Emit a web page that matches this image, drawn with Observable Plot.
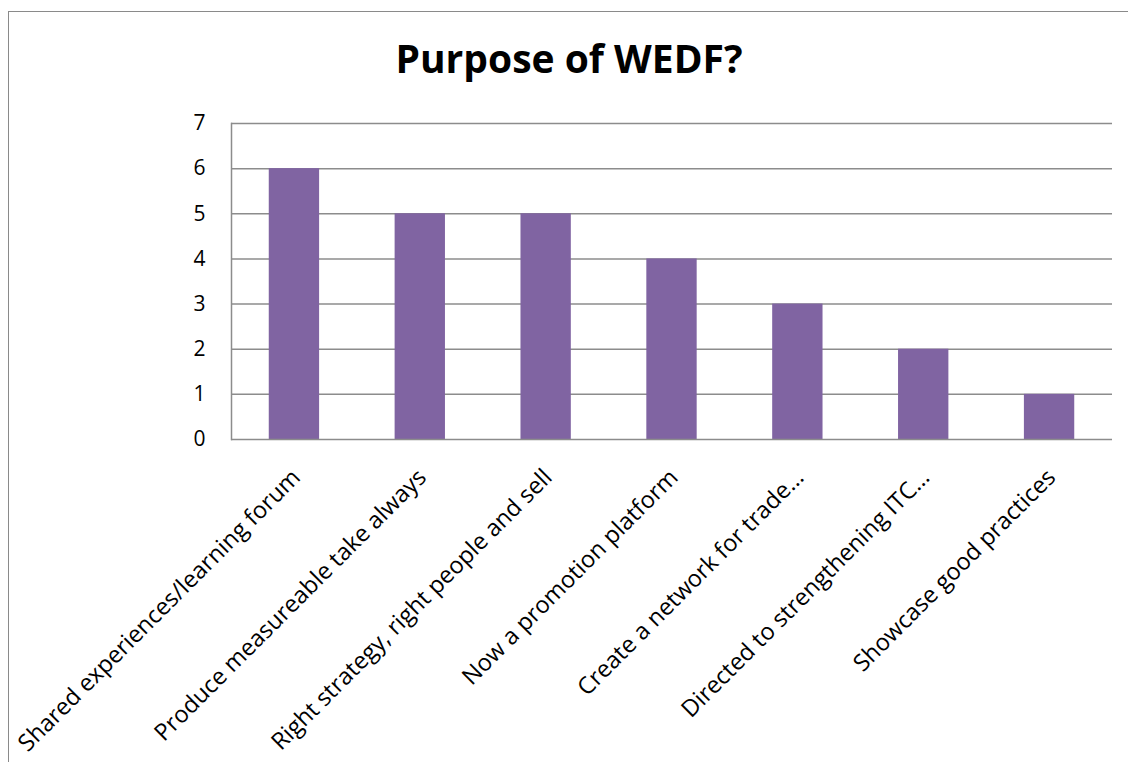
<!DOCTYPE html>
<html>
<head>
<meta charset="utf-8">
<script src="https://cdn.jsdelivr.net/npm/d3@7"></script>
<script src="https://cdn.jsdelivr.net/npm/@observablehq/plot@0.6"></script>
<style>
  body { margin: 0; background: #fff; font-family: "Open Sans", sans-serif; overflow: hidden; }
  #frame { position: absolute; left: 8px; top: 11px; width: 1200px; height: 800px;
           border-left: 1.5px solid #8a8a8a; border-top: 1.5px solid #8a8a8a; }
  #title { position: absolute; left: 0; top: 38px; width: 1138px; text-align: center;
           font-weight: bold; font-size: 39px; color: #000; line-height: 1; }
  #chart { position: absolute; left: 0; top: 0; }
</style>
</head>
<body>
<div id="frame"></div>
<div id="chart"></div>
<div id="title">Purpose of WEDF?</div>
<script>
// Survey answers: what is the purpose of WEDF?
const categories = [
  "Shared experiences/learning forum",
  "Produce measureable take always",
  "Right strategy, right people and sell",
  "Now a promotion platform",
  "Create a network for trade…",
  "Directed to strengthening ITC…",
  "Showcase good practices"
];
const counts = [6, 5, 5, 4, 3, 2, 1];
const yTicks = [0, 1, 2, 3, 4, 5, 6, 7];

const data = categories.map((c, i) => ({category: c, count: counts[i]}));
const gridColor = "#8c8c8c";

const chart = Plot.plot({
  width: 1128,
  height: 762,
  marginLeft: 231,
  marginRight: 16,
  marginTop: 123,
  marginBottom: 323,
  style: {fontFamily: "Open Sans, sans-serif", fontSize: "21px", color: "#000", background: "transparent"},
  x: {domain: categories, paddingInner: 0.6, paddingOuter: 0.3, round: false, label: null},
  y: {domain: [0, 7], ticks: yTicks, label: null},
  marks: [
    Plot.ruleY(yTicks.filter(d => d > 0), {stroke: gridColor, strokeWidth: 1.5}),
    Plot.barY(data, {x: "category", y: "count", fill: "#8064A2"}),
    Plot.ruleY([0], {stroke: gridColor, strokeWidth: 1.5}),
    Plot.frame({anchor: "left", stroke: gridColor, strokeWidth: 1.5}),
    Plot.axisY({ticks: yTicks, tickFormat: d3.format("d"), tickSize: 0, tickPadding: 26, fontSize: 21, label: null}),
    Plot.axisX({tickSize: 0, tickPadding: 10, tickRotate: -45, fontSize: 23.5, dx: 2, dy: 24, label: null})
  ]
});
document.getElementById("chart").appendChild(chart);
</script>
</body>
</html>
